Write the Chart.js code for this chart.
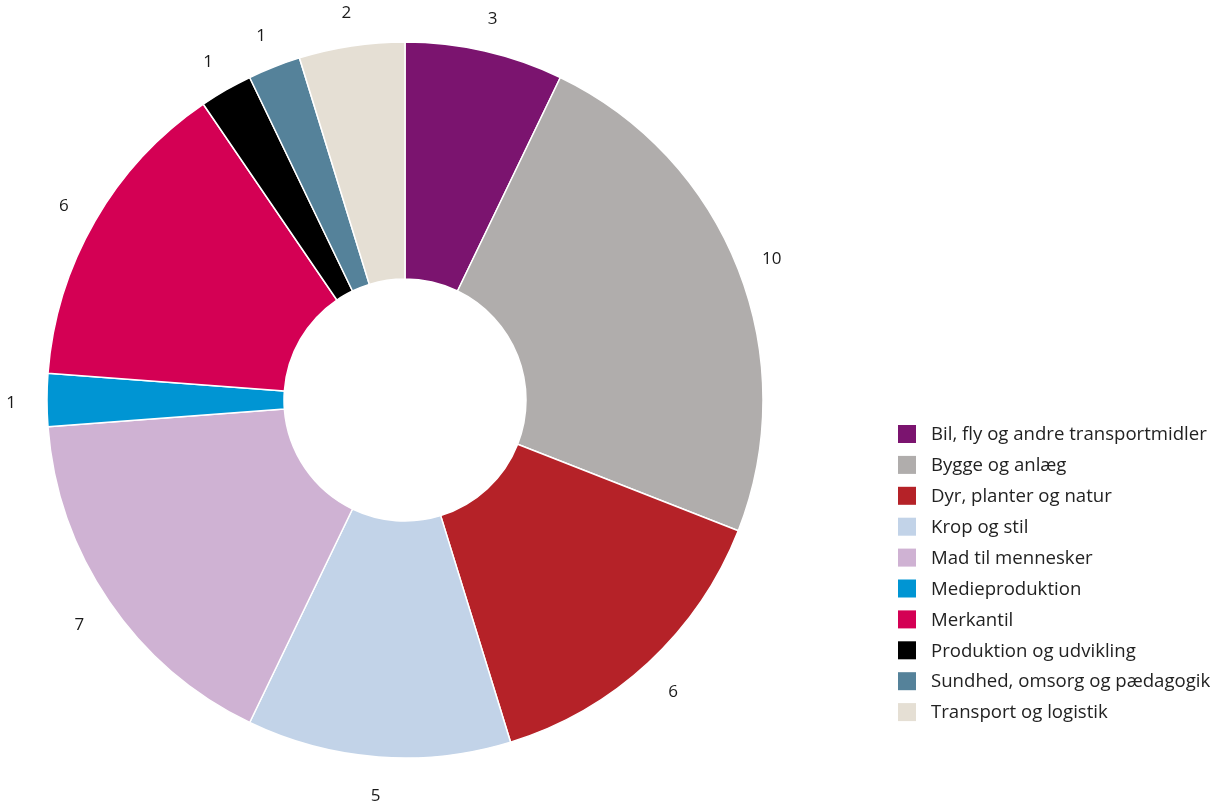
<!DOCTYPE html>
<html>
<head>
<meta charset="utf-8">
<script src="https://cdn.jsdelivr.net/npm/chart.js@4/dist/chart.umd.min.js"></script>
<style>
  html, body { margin: 0; padding: 0; background: #fff; }
  #wrap { width: 1219px; height: 801px; position: relative; }
</style>
</head>
<body>
<div id="wrap"><canvas id="myChart"></canvas></div>
<script>
const categories = [
    'Bil, fly og andre transportmidler',
    'Bygge og anlæg',
    'Dyr, planter og natur',
    'Krop og stil',
    'Mad til mennesker',
    'Medieproduktion',
    'Merkantil',
    'Produktion og udvikling',
    'Sundhed, omsorg og pædagogik',
    'Transport og logistik'
];
const counts = [3, 10, 6, 5, 7, 1, 6, 1, 1, 2];
const sliceColors = [
    '#7b146f', '#b0adac', '#b52228', '#c2d3e8', '#cfb2d3',
    '#0095d3', '#d40054', '#000000', '#55829a', '#e5dfd4'
];

// numbers just outside each slice
const sliceLabels = {
    id: 'sliceLabels',
    afterDatasetsDraw(chart) {
        const ctx = chart.ctx;
        const arcs = chart.getDatasetMeta(0).data;
        ctx.save();
        ctx.font = '17px "Open Sans"';
        ctx.fillStyle = '#1a1a1a';
        ctx.textAlign = 'center';
        ctx.textBaseline = 'middle';
        arcs.forEach((arc, i) => {
            const mid = (arc.startAngle + arc.endAngle) / 2;
            const r = arc.outerRadius + 36;
            ctx.fillText(String(counts[i]), arc.x + Math.cos(mid) * r, arc.y + Math.sin(mid) * r + 3);
        });
        ctx.restore();
    }
};

// legend column at lower right
const sideLegend = {
    id: 'sideLegend',
    afterDraw(chart) {
        const ctx = chart.ctx;
        const left = 898, top = 425, step = 30.9, box = 18;
        ctx.save();
        ctx.font = '18.6px "Open Sans"';
        ctx.textBaseline = 'middle';
        chart.data.labels.forEach((label, i) => {
            const y = top + i * step;
            ctx.fillStyle = chart.data.datasets[0].backgroundColor[i];
            ctx.fillRect(left, y, box, box);
            ctx.fillStyle = '#222';
            ctx.fillText(label, left + 33, y + box / 2 + 1);
        });
        ctx.restore();
    }
};

const ctx = document.getElementById('myChart').getContext('2d');
const myChart = new Chart(ctx, {
    type: 'doughnut',
    data: {
        labels: categories,
        datasets: [{
            data: counts,
            backgroundColor: sliceColors,
            borderColor: '#ffffff',
            borderWidth: 1.5
        }]
    },
    options: {
        responsive: true,
        maintainAspectRatio: false,
        animation: false,
        radius: 358,
        cutout: '33.8%',
        layout: { padding: { left: 0, right: 409, top: 0, bottom: 1 } },
        plugins: {
            legend: { display: false },
            tooltip: { enabled: false }
        }
    },
    plugins: [sliceLabels, sideLegend]
});
</script>
</body>
</html>
